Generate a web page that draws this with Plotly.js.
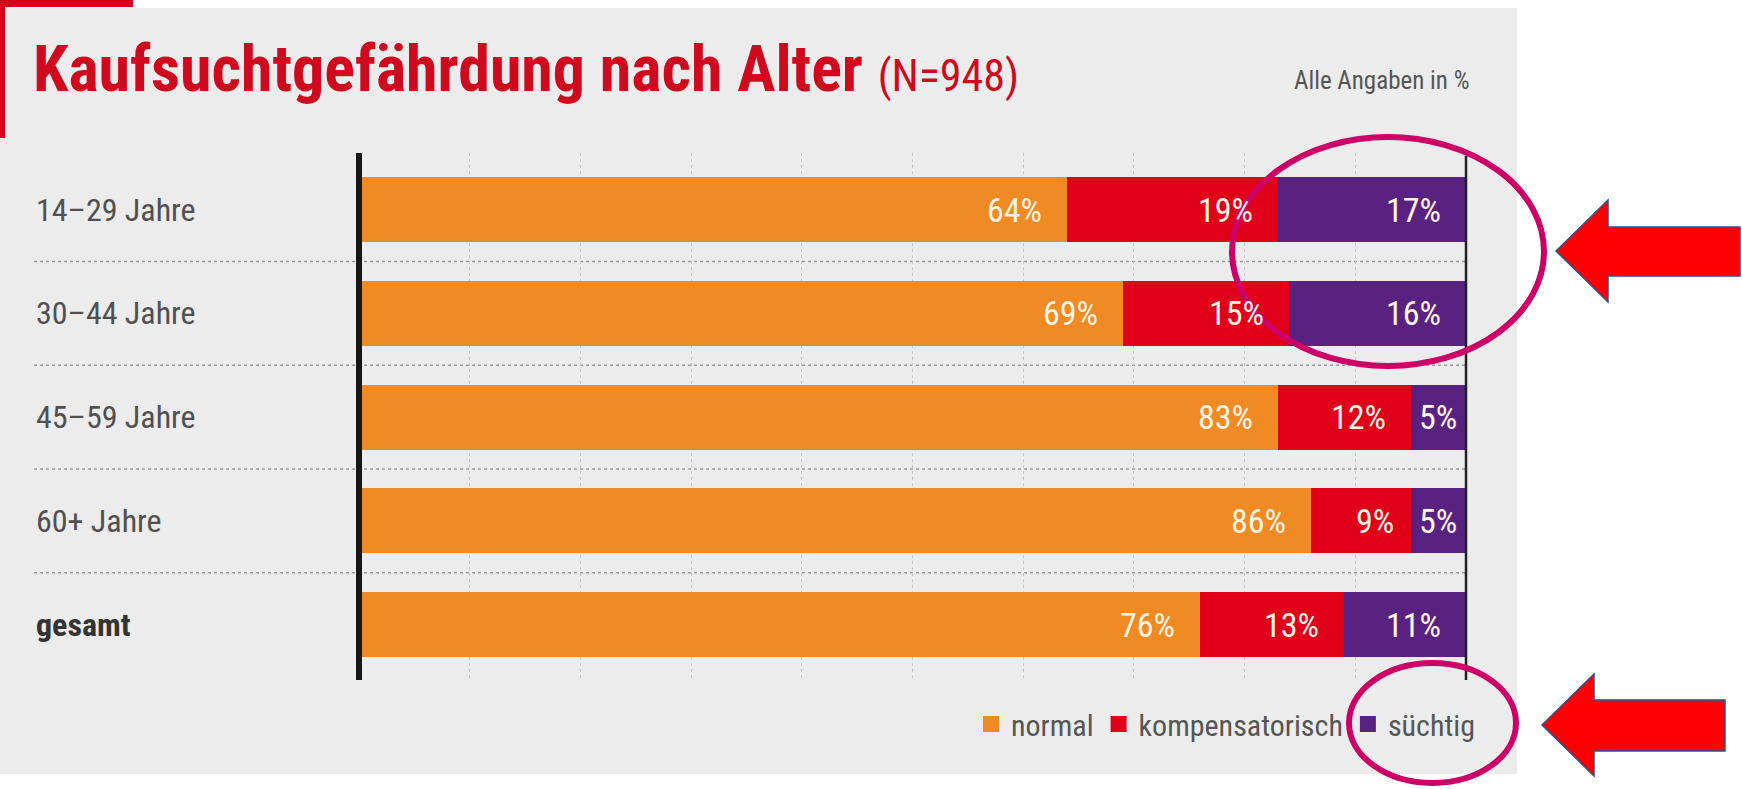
<!DOCTYPE html>
<html>
<head>
<meta charset="utf-8">
<script src="https://cdn.plot.ly/plotly-3.0.1.min.js"></script>
<style>
  html, body { margin: 0; padding: 0; background: #ffffff; }
  #chart { width: 1742px; height: 789px; }
</style>
</head>
<body>
<div id="chart"></div>
<script>
// ---------- data ----------
const categories = ["14–29 Jahre", "30–44 Jahre", "45–59 Jahre", "60+ Jahre", "gesamt"];
const seriesNames = ["normal", "kompensatorisch", "süchtig"];
const normal = [64, 69, 83, 86, 76];
const kompensatorisch = [19, 15, 12, 9, 13];
const suechtig = [17, 16, 5, 5, 11];
const seriesValues = [normal, kompensatorisch, suechtig];
const seriesColors = ["#ef8a24", "#e1001a", "#5a2280"];
const xTicks = [0, 10, 20, 30, 40, 50, 60, 70, 80, 90, 100];

// ---------- geometry helpers (pixel -> paper) ----------
const W = 1742, H = 789;
const ML = 359, MR = 276, MT = 153, MB = 109;
const PW = W - ML - MR, PH = H - MT - MB;
const px = x => (x - ML) / PW;
const py = y => (H - MB - y) / PH;

const FONT = "'Roboto Condensed', 'Liberation Sans', Arial, sans-serif";

// ---------- traces ----------
const traces = seriesValues.map((vals, s) => ({
  type: "bar",
  orientation: "h",
  name: seriesNames[s],
  y: categories,
  x: vals,
  marker: { color: seriesColors[s], line: { width: 0 } },
  showlegend: false,
  hoverinfo: "x+y+name"
}));
// legend entries (square markers)
seriesNames.forEach((n, s) => {
  traces.push({
    type: "scatter", mode: "markers", name: n,
    x: [null], y: [null],
    marker: { symbol: "square", size: 17, color: seriesColors[s] },
    showlegend: true, hoverinfo: "skip"
  });
});

// ---------- annotations ----------
const annotations = [];
// row labels
categories.forEach((c, i) => {
  const bold = (i === categories.length - 1);
  annotations.push({
    xref: "paper", yref: "y", x: px(34), y: c,
    xanchor: "left", yanchor: "middle", showarrow: false,
    text: bold ? "<b>" + c + "</b>" : c,
    font: { family: FONT, size: 32, color: bold ? "#333333" : "#505050" }
  });
});
// value labels inside segments
categories.forEach((c, i) => {
  let start = 0;
  seriesValues.forEach((vals, s) => {
    const v = vals[i];
    const end = start + v;
    const small = v < 8;
    annotations.push({
      xref: "x", yref: "y",
      x: small ? start + v / 2 : end,
      y: c,
      xanchor: small ? "center" : "right",
      xshift: small ? 0 : (v < 10 ? -15 : -23),
      yanchor: "middle", showarrow: false,
      text: v + "%",
      font: { family: FONT, size: 34, color: "#fff5e4" }
    });
    start = end;
  });
});
// "Alle Angaben in %"
annotations.push({
  xref: "paper", yref: "paper", x: px(1471), y: py(80),
  xanchor: "right", yanchor: "middle", showarrow: false,
  text: "Alle Angaben in %",
  font: { family: FONT, size: 25, color: "#555555" }
});

// ---------- shapes ----------
const shapes = [];
// grey panel
shapes.push({ type: "rect", xref: "paper", yref: "paper", layer: "below",
  x0: px(0), x1: px(1517), y0: py(774), y1: py(8),
  fillcolor: "#ececec", line: { width: 0 } });
// red corner marks
shapes.push({ type: "rect", xref: "paper", yref: "paper", layer: "above",
  x0: px(0), x1: px(133), y0: py(7), y1: py(0),
  fillcolor: "#d7001c", line: { width: 0 } });
shapes.push({ type: "rect", xref: "paper", yref: "paper", layer: "above",
  x0: px(0), x1: px(5), y0: py(138), y1: py(0),
  fillcolor: "#d7001c", line: { width: 0 } });
// dotted separators between rows
for (let i = 0; i < categories.length - 1; i++) {
  shapes.push({ type: "line", xref: "paper", yref: "y", layer: "below",
    x0: px(34), x1: 1, y0: i + 0.5, y1: i + 0.5,
    line: { color: "#9a9a9a", width: 1.5, dash: "dot" } });
}
// axis lines (paper-referenced so they are not clipped)
shapes.push({ type: "line", xref: "paper", yref: "paper", layer: "above",
  x0: px(359), x1: px(359), y0: 0, y1: 1, line: { color: "#161616", width: 6 } });
shapes.push({ type: "line", xref: "paper", yref: "paper", layer: "above",
  x0: 1, x1: 1, y0: 0, y1: py(156), line: { color: "#222222", width: 2.5 } });

// magenta ellipses
shapes.push({ type: "circle", xref: "paper", yref: "paper", layer: "above",
  x0: px(1232), x1: px(1544), y0: py(366), y1: py(137),
  line: { color: "#cc0066", width: 6 }, fillcolor: "rgba(0,0,0,0)" });
shapes.push({ type: "circle", xref: "paper", yref: "paper", layer: "above",
  x0: px(1349), x1: px(1516), y0: py(783), y1: py(663),
  line: { color: "#cc0066", width: 6 }, fillcolor: "rgba(0,0,0,0)" });

// red arrows (pointing left)
function arrowPath(tipX, tipY, headX, headTop, headBot, shaftTop, shaftBot, endX) {
  const P = (x, y) => px(x) + "," + py(y);
  return "M" + P(tipX, tipY) + " L" + P(headX, headTop) + " L" + P(headX, shaftTop) +
         " L" + P(endX, shaftTop) + " L" + P(endX, shaftBot) + " L" + P(headX, shaftBot) +
         " L" + P(headX, headBot) + " Z";
}
shapes.push({ type: "path", xref: "paper", yref: "paper", layer: "above",
  path: arrowPath(1556, 251, 1608, 200, 302, 227, 276, 1740),
  fillcolor: "#ff0000", line: { color: "#2f528f", width: 1.5 } });
shapes.push({ type: "path", xref: "paper", yref: "paper", layer: "above",
  path: arrowPath(1542, 725, 1594, 674, 776, 700, 751, 1725),
  fillcolor: "#ff0000", line: { color: "#2f528f", width: 1.5 } });

// ---------- layout ----------
const layout = {
  width: W, height: H,
  margin: { l: ML, r: MR, t: MT, b: MB, pad: 0 },
  paper_bgcolor: "#ffffff",
  plot_bgcolor: "rgba(0,0,0,0)",
  barmode: "stack",
  bargap: 0.373,
  title: {
    text: "<b>Kaufsuchtgefährdung nach Alter</b>&nbsp;<span style=\"font-size:44px;font-weight:normal\">(N=948)</span>",
    font: { family: FONT, size: 64, color: "#cf0a1f" },
    xref: "container", yref: "container",
    x: 33 / W, xanchor: "left",
    y: 1 - 69 / H, yanchor: "middle"
  },
  xaxis: {
    range: [0, 100], tickvals: xTicks, showticklabels: false,
    showgrid: true, gridcolor: "#c6c6c6", griddash: "dot", gridwidth: 1,
    zeroline: false, showline: false, fixedrange: true
  },
  yaxis: {
    type: "category", categoryorder: "array", categoryarray: categories,
    range: [4.535, -0.545], showticklabels: false, showgrid: false,
    zeroline: false, showline: false, fixedrange: true
  },
  showlegend: true,
  legend: {
    orientation: "h", traceorder: "normal", xref: "paper", yref: "paper",
    x: px(1480), xanchor: "right", y: py(724), yanchor: "middle",
    bgcolor: "rgba(0,0,0,0)",
    font: { family: FONT, size: 30, color: "#555555" },
    itemclick: false, itemdoubleclick: false
  },
  annotations: annotations,
  shapes: shapes
};

Plotly.newPlot("chart", traces, layout, { displayModeBar: false, staticPlot: true });
</script>
</body>
</html>
